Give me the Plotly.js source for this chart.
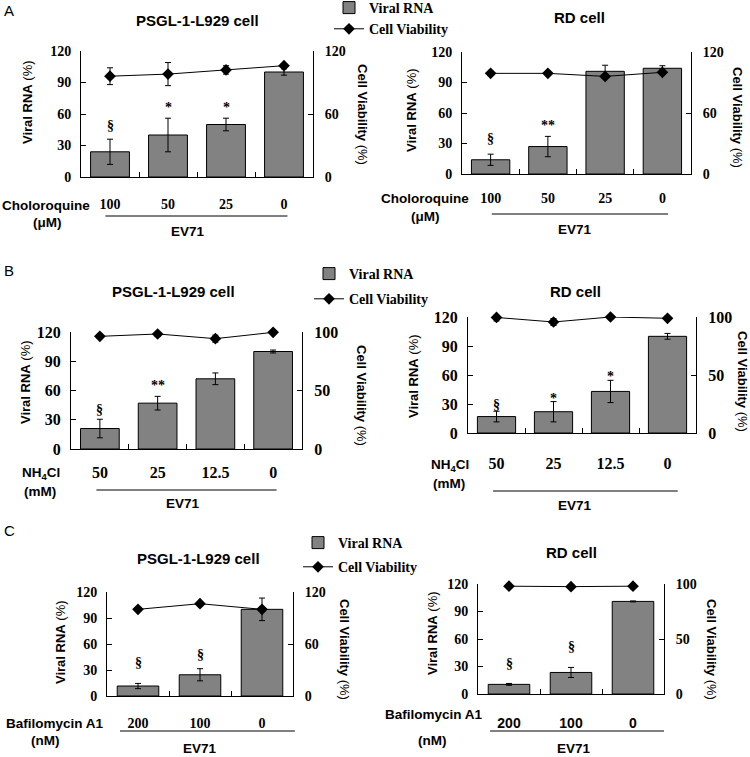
<!DOCTYPE html>
<html>
<head>
<meta charset="utf-8">
<script src="https://cdn.plot.ly/plotly-3.0.1.min.js"></script>
<style>html,body{margin:0;padding:0;background:#fff;}#chart{width:750px;height:757px;}</style>
</head>
<body>
<div id="chart"></div>
<script>
// ---------------- DATA ----------------
const catsA = ['100', '50', '25', '0'];
const catsB = ['50', '25', '12.5', '0'];
const catsC = ['200', '100', '0'];

// Panel A - PSGL-1-L929 (Choloroquine)
const rnaA1 = [24, 40, 50, 100];
const rnaA1Err = [12, 16, 6, 3];
const viaA1 = [96, 98, 102, 106];
const viaA1Err = [8, 11, 4, 1.5];
const sigA1 = ['§', '*', '*', ''];
const sigA1Y = [49, 66, 66, 0];

// Panel A - RD (Choloroquine)
const rnaA2 = [14, 27, 101, 104];
const rnaA2Err = [5.5, 10, 6, 2.5];
const viaA2 = [99, 99, 96, 100];
const viaA2Err = [1.5, 1.5, 2, 2];
const sigA2 = ['§', '**', '', ''];
const sigA2Y = [35, 47.5, 0, 0];

// Panel B - PSGL-1-L929 (NH4Cl)
const rnaB1 = [21, 47, 72, 100];
const rnaB1Err = [9.5, 7, 6, 1.5];
const viaB1 = [96.3, 98.3, 94.3, 99.7];
const viaB1Err = [2, 2, 3, 1];
const sigB1 = ['§', '**', '', ''];
const sigB1Y = [41, 65, 0, 0];

// Panel B - RD (NH4Cl)
const rnaB2 = [17, 22, 43, 100];
const rnaB2Err = [5.5, 10.5, 11.5, 3];
const viaB2 = [99.6, 95.7, 100, 98.9];
const viaB2Err = [3, 3, 1, 1];
const sigB2 = ['§', '*', '*', ''];
const sigB2Y = [30, 36, 58, 0];

// Panel C - PSGL-1-L929 (Bafilomycin A1)
const rnaC1 = [11.5, 24.5, 100];
const rnaC1Err = [3, 7, 13];
const viaC1 = [100, 106.5, 100];
const viaC1Err = [1, 2, 1];
const sigC1 = ['§', '§', ''];
const sigC1Y = [39, 48, 0];

// Panel C - RD (Bafilomycin A1)
const rnaC2 = [10.5, 23.5, 101];
const rnaC2Err = [1, 5.5, 0.5];
const viaC2 = [98, 97.6, 98];
const viaC2Err = [1.5, 2, 1.5];
const sigC2 = ['§', '§', ''];
const sigC2Y = [33.5, 52, 0];

const leftTicks = [0, 30, 60, 90, 120];

// ---------------- LAYOUT HELPERS ----------------
const W = 750, H = 757;
const px = v => v / W;
const py = v => 1 - v / H;

const SERIF = 'Liberation Serif, Times New Roman, serif';
const SANS = 'Liberation Sans, Arial, sans-serif';

const panels = [
  {cats: catsA, rna: rnaA1, rnaErr: rnaA1Err, via: viaA1, viaErr: viaA1Err, sig: sigA1, sigY: sigA1Y,
   x: [81, 313], y: [51, 177], r2: 120, t2: [0, 60, 120], legend: 'legend', showLeg: true,
   title: 'PSGL-1-L929 cell', tx: 197, ty: 20, lyx: 27, lyy: 102, ryx: 362, ryy: 114,
   drug: 'Choloroquine', unit: '(μM)', dx: 46, dy: 205, ux: 47, uy: 223, line: [0.105, 0.89], ly: 216, ex: 188, ey: 231,
   tickFont: SERIF, tickSize: 14, stand: 14},
  {cats: catsA, rna: rnaA2, rnaErr: rnaA2Err, via: viaA2, viaErr: viaA2Err, sig: sigA2, sigY: sigA2Y,
   x: [462, 691], y: [52, 174], r2: 120, t2: [0, 60, 120], legend: 'legend', showLeg: false,
   title: 'RD cell', tx: 579, ty: 17, lyx: 412, lyy: 110, ryx: 737, ryy: 117,
   drug: 'Choloroquine', unit: '(μM)', dx: 425, dy: 199, ux: 425, uy: 217, line: [0.13, 0.9], ly: 214, ex: 575, ey: 230,
   tickFont: SERIF, tickSize: 14, stand: 11},
  {cats: catsB, rna: rnaB1, rnaErr: rnaB1Err, via: viaB1, viaErr: viaB1Err, sig: sigB1, sigY: sigB1Y,
   x: [71, 302], y: [332, 449], r2: 100, t2: [0, 50, 100], legend: 'legend2', showLeg: true,
   title: 'PSGL-1-L929 cell', tx: 173, ty: 292, lyx: 25, lyy: 382, ryx: 362, ryy: 395,
   drug: 'NH<sub>4</sub>Cl', unit: '(mM)', dx: 41, dy: 473, ux: 40, uy: 491, line: [0.11, 0.89], ly: 490, ex: 183, ey: 503,
   tickFont: SERIF, tickSize: 16, stand: 9},
  {cats: catsB, rna: rnaB2, rnaErr: rnaB2Err, via: viaB2, viaErr: viaB2Err, sig: sigB2, sigY: sigB2Y,
   x: [468, 696], y: [317, 433], r2: 100, t2: [0, 50, 100], legend: 'legend2', showLeg: false,
   title: 'RD cell', tx: 575, ty: 292, lyx: 413, lyy: 376, ryx: 742, ryy: 381,
   drug: 'NH<sub>4</sub>Cl', unit: '(mM)', dx: 450, dy: 465, ux: 449, uy: 483, line: [0.11, 0.92], ly: 491, ex: 575, ey: 506,
   tickFont: SERIF, tickSize: 16, stand: 16},
  {cats: catsC, rna: rnaC1, rnaErr: rnaC1Err, via: viaC1, viaErr: viaC1Err, sig: sigC1, sigY: sigC1Y,
   x: [107, 293], y: [592, 696], r2: 120, t2: [0, 60, 120], legend: 'legend3', showLeg: true,
   title: 'PSGL-1-L929 cell', tx: 199, ty: 558, lyx: 60, lyy: 642, ryx: 345, ryy: 649,
   drug: 'Bafilomycin A1', unit: '(nM)', dx: 55, dy: 723, ux: 45, uy: 740, line: [0.07, 1.01], ly: 731, ex: 200, ey: 748,
   tickFont: SERIF, tickSize: 14, stand: 14},
  {cats: catsC, rna: rnaC2, rnaErr: rnaC2Err, via: viaC2, viaErr: viaC2Err, sig: sigC2, sigY: sigC2Y,
   x: [478, 664], y: [584, 694], r2: 100, t2: [0, 50, 100], legend: 'legend3', showLeg: false,
   title: 'RD cell', tx: 571, ty: 552, lyx: 432, lyy: 633, ryx: 712, ryy: 649,
   drug: 'Bafilomycin A1', unit: '(nM)', dx: 434, dy: 714, ux: 432, uy: 740, line: [0.065, 1.0], ly: 731, ex: 574, ey: 748,
   tickFont: SANS, tickSize: 14, stand: 16}
];

const traces = [];
const layout = {
  width: W, height: H,
  margin: {l: 0, r: 0, t: 0, b: 0, autoexpand: false},
  paper_bgcolor: '#fff', plot_bgcolor: 'rgba(0,0,0,0)',
  showlegend: true, bargap: 0.33,
  annotations: [], shapes: [],
  font: {family: SANS, color: '#000'}
};

const legFont = {family: SERIF, size: 14, color: '#000', weight: 'bold'};
const legBase = {xanchor: 'left', yanchor: 'top', font: legFont, bgcolor: 'rgba(0,0,0,0)', itemwidth: 30};
layout.legend = Object.assign({x: px(329), y: py(-8), tracegroupgap: 0}, legBase);
layout.legend2 = Object.assign({x: px(309), y: py(258), tracegroupgap: 4}, legBase);
layout.legend3 = Object.assign({x: px(298), y: py(527), tracegroupgap: 3}, legBase);

panels.forEach((p, i) => {
  const n = i + 1;
  const xa = n === 1 ? 'x' : 'x' + n;
  const yl = (2 * n - 1) === 1 ? 'y' : 'y' + (2 * n - 1);
  const yr = 'y' + (2 * n);
  const xaKey = n === 1 ? 'xaxis' : 'xaxis' + n;
  const ylKey = (2 * n - 1) === 1 ? 'yaxis' : 'yaxis' + (2 * n - 1);
  const yrKey = 'yaxis' + (2 * n);

  traces.push({
    type: 'bar', name: 'Viral RNA', x: p.cats, y: p.rna, xaxis: xa, yaxis: yl,
    marker: {color: '#828282', line: {color: '#000', width: 1}},
    error_y: {type: 'data', array: p.rnaErr, visible: true, color: '#000', thickness: 1, width: 3},
    legend: p.legend, legendgroup: 'rna' + p.legend, showlegend: p.showLeg, hoverinfo: 'skip'
  });
  traces.push({
    type: 'scatter', mode: 'lines+markers', name: 'Cell Viability', x: p.cats, y: p.via, xaxis: xa, yaxis: yr,
    line: {color: '#000', width: 1}, marker: {symbol: 'diamond', size: 9, color: '#000'},
    error_y: {type: 'data', array: p.viaErr, visible: true, color: '#000', thickness: 1, width: 3},
    cliponaxis: false, legend: p.legend, legendgroup: 'via' + p.legend, showlegend: p.showLeg, hoverinfo: 'skip'
  });

  layout[xaKey] = {
    domain: [px(p.x[0]), px(p.x[1])], anchor: yl, type: 'category',
    range: [-0.5, p.cats.length - 0.5],
    showline: true, linecolor: '#000', linewidth: 1, mirror: false,
    ticks: 'inside', ticklen: 5, tickcolor: '#000', tickson: 'boundaries',
    showgrid: false, zeroline: false,
    tickfont: {family: p.tickFont, size: p.tickSize, color: '#000', weight: 'bold'},
    ticklabelstandoff: p.stand, fixedrange: true
  };
  layout[ylKey] = {
    domain: [py(p.y[1]), py(p.y[0])], anchor: xa, range: [0, 120],
    tickvals: leftTicks, showline: true, linecolor: '#000', linewidth: 1,
    ticks: 'inside', ticklen: 5, tickcolor: '#000', showgrid: false, zeroline: false,
    tickfont: {family: SERIF, size: p.tickSize, color: '#000', weight: 'bold'},
    ticklabelstandoff: 6, fixedrange: true
  };
  layout[yrKey] = {
    domain: [py(p.y[1]), py(p.y[0])], anchor: xa, overlaying: yl, side: 'right', range: [0, p.r2],
    tickvals: p.t2, showline: true, linecolor: '#000', linewidth: 1,
    ticks: 'inside', ticklen: 5, tickcolor: '#000', showgrid: false, zeroline: false,
    tickfont: {family: SERIF, size: p.tickSize, color: '#000', weight: 'bold'},
    ticklabelstandoff: 8, fixedrange: true
  };

  // significance marks (x given as category index)
  p.sig.forEach((s, k) => {
    if (!s) return;
    layout.annotations.push({
      xref: xa, yref: yl, x: k, y: p.sigY[k], text: s, showarrow: false,
      font: {family: SERIF, size: 14, color: '#000', weight: 'bold'}, xanchor: 'center', yanchor: 'middle'
    });
  });

  const ann = (x, y, text, opts) => layout.annotations.push(Object.assign({
    xref: 'paper', yref: 'paper', x: px(x), y: py(y), text: text, showarrow: false,
    xanchor: 'center', yanchor: 'middle', font: {family: SANS, size: 13.5, color: '#000', weight: 'bold'}
  }, opts || {}));

  ann(p.tx, p.ty, p.title, {font: {family: SANS, size: 15, color: '#000', weight: 'bold'}});
  ann(p.lyx, p.lyy, '<b>Viral RNA</b> (%)', {textangle: -90, font: {family: SANS, size: 13, color: '#000'}});
  ann(p.ryx, p.ryy, '<b>Cell Viability</b> (%)', {textangle: 90, font: {family: SANS, size: 13, color: '#000'}});
  ann(p.dx, p.dy, p.drug);
  ann(p.ux, p.uy, p.unit);
  ann(p.ex, p.ey, 'EV71', {font: {family: SANS, size: 13.5, color: '#000', weight: 'bold'}});

  layout.shapes.push({
    type: 'line', xref: xa + ' domain', yref: 'paper',
    x0: p.line[0], x1: p.line[1], y0: py(p.ly), y1: py(p.ly),
    line: {color: '#000', width: 1}
  });
});

// panel letters
[['A', 9, 10], ['B', 9, 270], ['C', 9, 530]].forEach(([t, x, y]) => {
  layout.annotations.push({xref: 'paper', yref: 'paper', x: px(x), y: py(y), text: t, showarrow: false,
    xanchor: 'center', yanchor: 'middle', font: {family: SANS, size: 15, color: '#000'}});
});

Plotly.newPlot('chart', traces, layout, {displayModeBar: false, staticPlot: true});
</script>
</body>
</html>
